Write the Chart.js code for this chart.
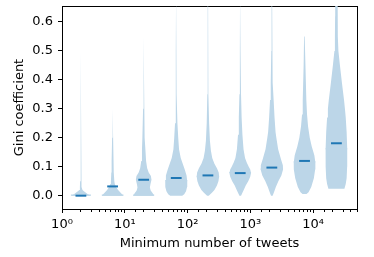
<!DOCTYPE html>
<html><head><meta charset="utf-8">
<script src="https://cdn.jsdelivr.net/npm/chart.js@4"></script>
<style>html,body{margin:0;padding:0;background:#fff;}canvas{display:block;}</style>
</head><body>
<canvas id="c" width="374" height="257"></canvas>
<script>
// ---- data ----
const positions = [2, 6.4, 20, 66, 211, 690, 2200, 7300, 23500];   // minimum number of tweets
const medians   = [0.0, 0.032, 0.055, 0.061, 0.070, 0.078, 0.097, 0.120, 0.181];
const violinGini = [
  [0, 0.005, 0.01, 0.015, 0.02, 0.03, 0.05, 0.1, 0.2, 0.27, 0.3, 0.5, 0.7],
  [0, 0.01, 0.02, 0.03, 0.04, 0.05, 0.08, 0.12, 0.2, 0.3, 0.46, 0.7],
  [0, 0.008, 0.018, 0.028, 0.04, 0.055, 0.068, 0.08, 0.095, 0.12, 0.16, 0.2, 0.3, 0.4, 0.55, 0.7],
  [0, 0.005, 0.015, 0.03, 0.05, 0.07, 0.09, 0.11, 0.13, 0.16, 0.2, 0.25, 0.35, 0.5, 0.7],
  [0, 0.01, 0.02, 0.035, 0.05, 0.065, 0.08, 0.095, 0.11, 0.13, 0.155, 0.19, 0.25, 0.35, 0.5, 0.7],
  [0, 0.01, 0.02, 0.035, 0.05, 0.065, 0.078, 0.09, 0.1, 0.115, 0.13, 0.16, 0.21, 0.27, 0.35, 0.5, 0.7],
  [0, 0.015, 0.03, 0.05, 0.07, 0.09, 0.105, 0.125, 0.16, 0.2, 0.22, 0.27, 0.33, 0.39, 0.5, 0.7],
  [0.006, 0.012, 0.03, 0.06, 0.09, 0.115, 0.14, 0.17, 0.2, 0.24, 0.28, 0.33, 0.45, 0.55, 0.7],
  [0.024, 0.04, 0.06, 0.1, 0.16, 0.22, 0.27, 0.3, 0.33, 0.39, 0.45, 0.5, 0.55, 0.62, 0.7]
];
const violinDensity = [
  [10, 7, 5, 3, 1.6, 1.0, 0.8, 0.6, 0.45, 0.35, 0.15, 0.1, 0.08],
  [10.8, 8, 5.5, 3.5, 2.2, 1.7, 1.3, 1.0, 0.5, 0.25, 0.15, 0.1],
  [10.5, 9, 7, 6.2, 6.8, 7.8, 7.2, 5, 3.5, 2.4, 1.7, 1.3, 0.6, 0.35, 0.2, 0.12],
  [6, 8, 9.8, 10.8, 11, 10.3, 8.5, 6.5, 4.5, 2.8, 2, 1.2, 0.6, 0.3, 0.15],
  [0.8, 4, 6.5, 9, 10.5, 11.2, 10.8, 9, 6.5, 4.3, 3, 2, 1.2, 0.6, 0.3, 0.15],
  [0.8, 2.2, 3.5, 5.5, 8, 10, 10.8, 10, 8.5, 6.5, 4.8, 3.3, 2.2, 1.4, 0.8, 0.35, 0.18],
  [0.8, 2.5, 4, 6.5, 9.5, 11.2, 11, 9.2, 6.3, 4.5, 3.7, 2.7, 1.8, 1.1, 0.55, 0.25],
  [2, 4, 6.7, 9.3, 10.6, 10.8, 9.8, 7.2, 5.2, 3.5, 2.5, 1.8, 0.9, 0.45, 0.3],
  [8, 9.3, 10.2, 10.7, 10.8, 10.2, 9.3, 8.5, 7.6, 5.5, 3.5, 2, 1.5, 1.3, 1.2]
];
const xTickLabels = ['10\u2070', '10\u00b9', '10\u00b2', '10\u00b3', '10\u2074'];
const xTitle = 'Minimum number of tweets';
const yTitle = 'Gini coefficient';

// ---- styling ----
const DENS_REF = 11;       // density that maps to the full half-width
const HALF_DEX = 0.1755;   // half-width of a violin in decades
const MED_DEX = 0.086;     // half-length of a median bar in decades
const EPS = 0.004;
const FILL = 'rgb(188,214,232)';
const C0 = '#1f77b4';
const FONT = {family: "'DejaVu Sans', sans-serif", size: 13};

function halves(i) {
  const ys = violinGini[i], ds = violinDensity[i], p = positions[i];
  let m = 0;
  ds.forEach((d, k) => { if (d > ds[m]) m = k; });
  const xl = k => p * Math.pow(10, -ds[k] / DENS_REF * HALF_DEX);
  const xr = k => p * Math.pow(10, ds[k] / DENS_REF * HALF_DEX);
  const n = ys.length;
  const up = [];
  for (let k = m; k < n; k++) up.push({x: xl(k), y: ys[k]});
  for (let k = n - 1; k >= m; k--) up.push({x: xr(k), y: ys[k]});
  const low = [{x: xl(m), y: ys[m] + EPS}];
  for (let k = m; k >= 0; k--) low.push({x: xl(k), y: ys[k]});
  for (let k = 0; k <= m; k++) low.push({x: xr(k), y: ys[k]});
  low.push({x: xr(m), y: ys[m] + EPS});
  return [up, low];
}

const datasets = [];
medians.forEach((v, i) => {
  datasets.push({
    data: [{x: positions[i] * Math.pow(10, -MED_DEX), y: v}, {x: positions[i] * Math.pow(10, MED_DEX), y: v}],
    borderColor: C0, borderWidth: 2, pointRadius: 0, fill: false, order: 0
  });
});
positions.forEach((p, i) => {
  halves(i).forEach(part => datasets.push({
    data: part, fill: 'shape', backgroundColor: FILL, borderColor: 'rgba(0,0,0,0)',
    borderWidth: 0, pointRadius: 0, order: 1
  }));
});

const isPow10 = v => { const e = Math.log10(v); return Math.abs(e - Math.round(e)) < 1e-9; };
const zeroPad = s => { s.paddingLeft = 0; s.paddingRight = 0; s.paddingTop = 0; s.paddingBottom = 0; };

Chart.defaults.font.family = FONT.family;
Chart.defaults.font.size = FONT.size;
Chart.defaults.color = '#000';

new Chart(document.getElementById('c'), {
  type: 'line',
  data: {datasets},
  options: {
    responsive: false, animation: false, events: [],
    layout: {padding: {top: 6, right: 17, left: 0, bottom: 0}},
    plugins: {legend: {display: false}, tooltip: {enabled: false}},
    elements: {line: {tension: 0}},
    scales: {
      x: {
        type: 'logarithmic', position: 'bottom', min: 1, max: 50000,
        afterFit: s => { s.height = 48; zeroPad(s); },
        border: {display: true, color: '#000', width: 1},
        grid: {
          display: true, drawOnChartArea: false, drawTicks: true, tickLength: 4,
          tickColor: '#000', tickWidth: 1,
          tickBorderDash: ctx => (ctx.tick && isPow10(ctx.tick.value)) ? [] : [2, 10]
        },
        ticks: {
          autoSkip: false, maxRotation: 0, minRotation: 0, padding: 4, color: '#000',
          callback: v => isPow10(v) ? xTickLabels[Math.round(Math.log10(v))] : ''
        },
        title: {display: true, text: xTitle, color: '#000', padding: {top: 0, bottom: 6}}
      },
      y: {
        type: 'linear', position: 'left', min: -0.046, max: 0.655,
        afterFit: s => { s.width = 62; zeroPad(s); },
        border: {display: true, color: '#000', width: 1},
        grid: {display: true, drawOnChartArea: false, drawTicks: true, tickLength: 4, tickColor: '#000', tickWidth: 1},
        ticks: {stepSize: 0.1, includeBounds: false, padding: 5, color: '#000', callback: v => v.toFixed(1)},
        title: {display: true, text: yTitle, color: '#000', padding: {top: 12, bottom: 0}}
      },
      x2: {
        type: 'linear', position: 'top',
        afterFit: s => { s.height = 0; zeroPad(s); },
        border: {display: true, color: '#000', width: 1},
        grid: {display: true, drawOnChartArea: false, drawTicks: false},
        ticks: {display: false}
      },
      y2: {
        type: 'linear', position: 'right',
        afterFit: s => { s.width = 0; zeroPad(s); },
        border: {display: true, color: '#000', width: 1},
        grid: {display: true, drawOnChartArea: false, drawTicks: false},
        ticks: {display: false}
      }
    }
  }
});
</script>
</body></html>
